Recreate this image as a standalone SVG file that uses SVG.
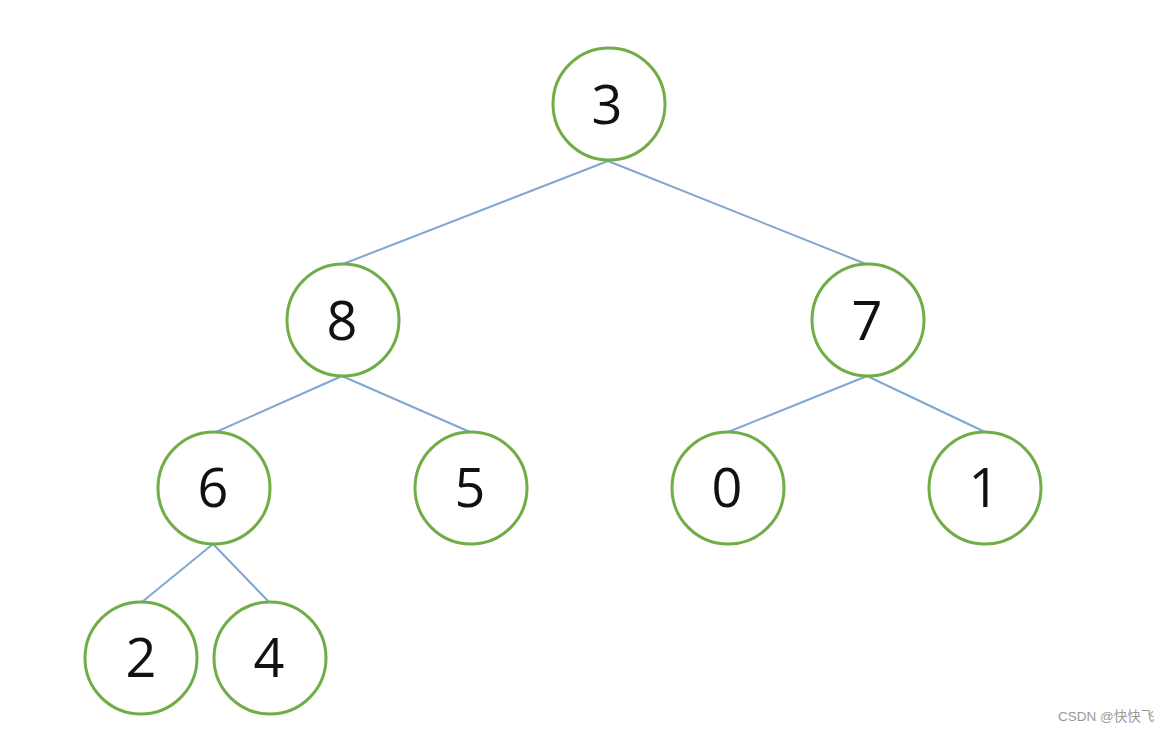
<svg xmlns="http://www.w3.org/2000/svg" width="1174" height="731" viewBox="0 0 1174 731">
<style>
.n circle{fill:#fff;stroke:#70AD47;stroke-width:3}
.n text{font-family:"Open Sans","Liberation Sans",sans-serif;font-size:54px;font-weight:500;fill:#111;text-anchor:middle}
.e line{stroke:#7FA7D0;stroke-width:2}
.wm{font-family:"Liberation Sans","Noto Sans CJK SC",sans-serif;font-size:13.5px;fill:#999}
</style>
<rect width="1174" height="731" fill="#fff"/>
<g class="e" id="edges">
<line x1="608" y1="161" x2="343" y2="264"/>
<line x1="608" y1="161" x2="866" y2="264"/>
<line x1="342" y1="376" x2="216" y2="432"/>
<line x1="342" y1="376" x2="470" y2="432"/>
<line x1="867" y1="376" x2="728" y2="432"/>
<line x1="867" y1="376" x2="985" y2="432"/>
<line x1="213" y1="544" x2="142" y2="602"/>
<line x1="213" y1="544" x2="269" y2="602"/>
</g>
<g class="n" id="n3"><circle cx="609" cy="104" r="56"/><text x="607" y="124">3</text></g>
<g class="n" id="n8"><circle cx="343" cy="320" r="56"/><text x="342" y="340">8</text></g>
<g class="n" id="n7"><circle cx="868" cy="320" r="56"/><text x="867" y="340">7</text></g>
<g class="n" id="n6"><circle cx="214" cy="488" r="56"/><text x="213" y="507">6</text></g>
<g class="n" id="n5"><circle cx="471" cy="488" r="56"/><text x="470" y="507">5</text></g>
<g class="n" id="n0"><circle cx="728" cy="488" r="56"/><text x="727" y="507">0</text></g>
<g class="n" id="n1"><circle cx="985" cy="488" r="56"/><text x="984" y="507">1</text></g>
<g class="n" id="n2"><circle cx="141" cy="658" r="56"/><text x="141" y="677">2</text></g>
<g class="n" id="n4"><circle cx="270" cy="658" r="56"/><text x="269" y="677">4</text></g>
<text class="wm" x="1058" y="721">CSDN @快快飞</text>
</svg>
